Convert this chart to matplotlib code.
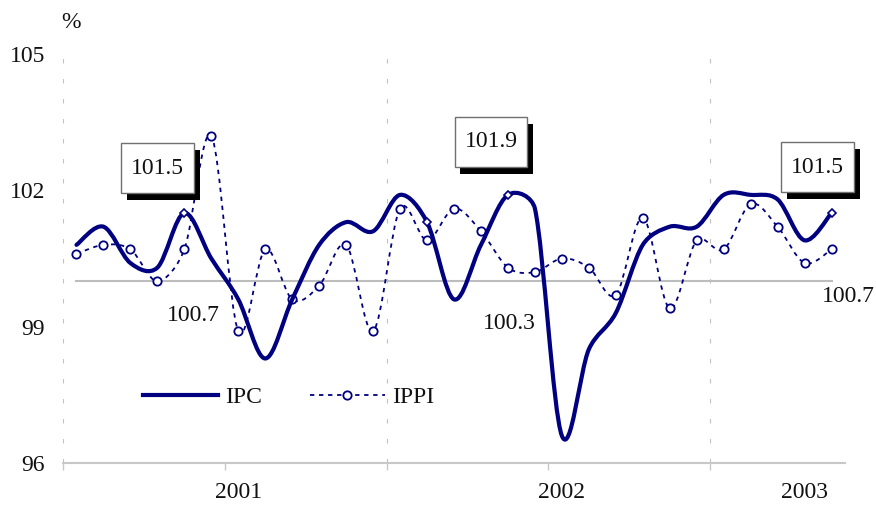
import numpy as np
import matplotlib.pyplot as plt
import matplotlib.patheffects as pe
from matplotlib.path import Path
from matplotlib.patches import PathPatch
from matplotlib.lines import Line2D

plt.rcParams['font.family'] = ['Liberation Serif', 'DejaVu Serif']
plt.rcParams['font.size'] = 17

# monthly data (29 months)
months = np.arange(29)
ipc = [100.8, 101.2, 100.4, 100.3, 101.5, 100.5, 99.6, 98.3, 99.6, 100.8,
       101.3, 101.1, 101.9, 101.3, 99.6, 100.8, 101.9, 101.6, 96.6, 98.5,
       99.3, 100.8, 101.2, 101.2, 101.9, 101.9, 101.8, 100.9, 101.5]
ippi = [100.6, 100.8, 100.7, 100.0, 100.7, 103.2, 98.9, 100.7, 99.6, 99.9,
        100.8, 98.9, 101.6, 100.9, 101.6, 101.1, 100.3, 100.2, 100.5, 100.3,
        99.7, 101.4, 99.4, 100.9, 100.7, 101.7, 101.2, 100.4, 100.7]
ipc_marked = [4, 13, 16, 28]
box_labels = [(4, '101.5', (-27, 45)), (16, '101.9', (-17, 53)), (28, '101.5', (-14, 46))]
val_labels = [(4, '100.7', (9, -66)), (16, '100.3', (1, -56)), (28, '100.7', (17, -47))]
year_pos = [6, 18, 27]
year_labels = ['2001', '2002', '2003']

navy = '#000080'


def smooth_path(x, y, sx, sy, k=0.4):
    # excel-like smoothed line: catmull-rom arms, clamped on short segments
    pts = np.column_stack([np.asarray(x, float) * sx, np.asarray(y, float) * sy])
    n = len(pts)
    arms = [(pts[min(i + 1, n - 1)] - pts[max(i - 1, 0)]) / 6 for i in range(n)]
    verts = [pts[0]]
    codes = [Path.MOVETO]
    for i in range(n - 1):
        seg = np.hypot(*(pts[i + 1] - pts[i]))
        a1, a2 = arms[i], arms[i + 1]
        a1 = a1 * min(1, k * seg / max(np.hypot(*a1), 1e-9))
        a2 = a2 * min(1, k * seg / max(np.hypot(*a2), 1e-9))
        verts += [pts[i] + a1, pts[i + 1] - a2, pts[i + 1]]
        codes += [Path.CURVE4] * 3
    verts = np.array(verts) / [sx, sy]
    return Path(verts, codes)


def wide_box(x0, y0, width, height, mutation_size):
    px, py = 0.42 * mutation_size, 0.62 * mutation_size
    x0, y0 = x0 - px, y0 - py
    x1, y1 = x0 + width + 2 * px, y0 + height + 2 * py
    return Path([(x0, y0), (x1, y0), (x1, y1), (x0, y1), (x0, y0)],
                [Path.MOVETO, Path.LINETO, Path.LINETO, Path.LINETO, Path.CLOSEPOLY])


fig = plt.figure(figsize=(8.76, 5.05), dpi=100)
ax = fig.add_axes([63 / 876, 42 / 505, 782 / 876, 409 / 505])
ax.set_xlim(-0.5, 28.5)
ax.set_ylim(96, 105)
bb = ax.get_window_extent()
sx, sy = bb.width / 29, bb.height / 9

for xv in [-0.5, 11.5, 23.5]:
    ax.axvline(xv, color='#c0c0c0', lw=0.8, ls=(0, (4, 14)), zorder=0)
ax.plot([0, 28], [100, 100], color='#bdbdbd', lw=1.5, zorder=1)

ax.add_patch(PathPatch(smooth_path(months, ippi, sx, sy), fill=False, edgecolor=navy,
                       lw=1.3, ls=(0, (2.4, 2.6)), zorder=2))
ax.plot(months, ippi, ls='none', marker='o', ms=6, mfc='white', mec=navy, mew=1.3, zorder=3)

ax.add_patch(PathPatch(smooth_path(months, ipc, sx, sy), fill=False, edgecolor=navy,
                       lw=3, capstyle='round', joinstyle='round', zorder=4))
ax.plot([months[i] for i in ipc_marked], [ipc[i] for i in ipc_marked], ls='none',
        marker='D', ms=4, mfc='white', mec=navy, mew=1.2, zorder=5)

for i, txt, (dx, dy) in box_labels:
    ann = ax.annotate(txt, (months[i], ipc[i]), xytext=(dx, dy), textcoords='offset pixels',
                      ha='center', va='center', color='#111111', zorder=7,
                      bbox=dict(boxstyle=wide_box, fc='white', ec='#707070', lw=1))
    ann.get_bbox_patch().set_path_effects([
        pe.SimplePatchShadow(offset=(4.3, -5), shadow_rgbFace='black', alpha=1),
        pe.Normal()])

for i, txt, (dx, dy) in val_labels:
    ax.annotate(txt, (months[i], ippi[i]), xytext=(dx, dy), textcoords='offset pixels',
                ha='center', va='center', color='#111111', zorder=6)

# axes styling
for s in ['left', 'top', 'right']:
    ax.spines[s].set_visible(False)
ax.spines['bottom'].set_color('#c8c8c8')
ax.spines['bottom'].set_linewidth(1.5)

ax.set_yticks([96, 99, 102, 105])
ax.tick_params(axis='y', length=0, pad=13, labelcolor='#111111')
ax.set_xticks([-0.5, 5.5, 11.5, 17.5, 23.5])
ax.set_xticklabels([])
ax.tick_params(axis='x', which='major', length=5, width=1, color='#c8c8c8')
ax.set_xticks(year_pos, minor=True)
ax.set_xticklabels(year_labels, minor=True)
ax.tick_params(axis='x', which='minor', length=0, pad=14, labelcolor='#111111')

fig.text(71 / 876, 1 - 23 / 505, '%', ha='center', va='center', color='#111111')

handles = [Line2D([], [], color=navy, lw=3),
           Line2D([], [], color=navy, lw=1.3, ls=(0, (2.4, 2.6)), marker='o', ms=6,
                  mfc='white', mec=navy, mew=1.3)]
ax.legend(handles, ['IPC', 'IPPI'], ncol=2, frameon=False, loc='center left',
          bbox_to_anchor=(0.102, 0.161), borderaxespad=0, borderpad=0,
          handlelength=3.2, handletextpad=0.3, columnspacing=2.0, labelcolor='#111111')

fig.savefig('out.png', dpi=100)
